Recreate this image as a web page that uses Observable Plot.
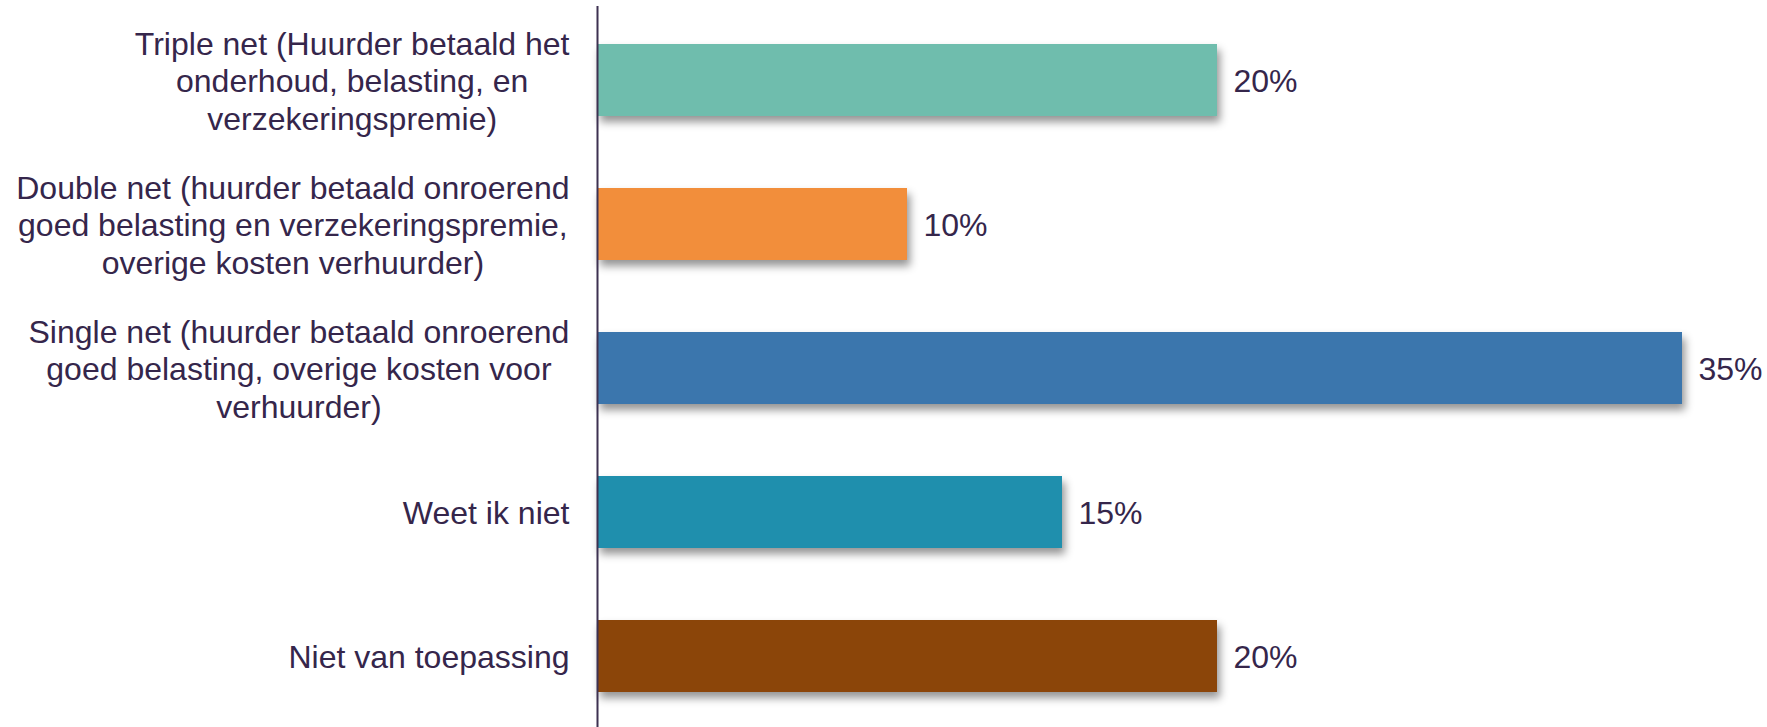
<!DOCTYPE html>
<html>
<head>
<meta charset="utf-8">
<script src="https://cdn.jsdelivr.net/npm/d3@7"></script>
<script src="https://cdn.jsdelivr.net/npm/@observablehq/plot@0.6"></script>
<style>
  html, body { margin: 0; padding: 0; background: #fff; overflow: hidden; }
  #chart svg { display: block; }
</style>
</head>
<body>
<div id="chart"></div>
<script>
const categories = [
  "Triple net (Huurder betaald het\nonderhoud, belasting, en\nverzekeringspremie)",
  "Double net (huurder betaald onroerend\ngoed belasting en verzekeringspremie,\noverige kosten verhuurder)",
  "Single net (huurder betaald onroerend\ngoed belasting, overige kosten voor\nverhuurder)",
  "Weet ik niet",
  "Niet van toepassing"
];
const values = [20, 10, 35, 15, 20];
const valueLabels = ["20%", "10%", "35%", "15%", "20%"];
const colors = ["#6fbdad", "#f28e3b", "#3b76ad", "#1f8fad", "#8b4509"];

const data = categories.map((c, i) => ({cat: c, value: values[i], label: valueLabels[i], color: colors[i]}));

const textColor = "#35264b";

const plot = Plot.plot({
  width: 1767,
  height: 727,
  marginLeft: 597,
  marginRight: 85,
  marginTop: 6,
  marginBottom: -3,
  style: {fontFamily: "'Liberation Sans', Arial, sans-serif", fontSize: "32px", color: textColor, background: "#fff"},
  x: {domain: [0, 35], axis: null},
  y: {domain: categories, paddingInner: 0.5, paddingOuter: 0.25, label: null},
  marks: [
    Plot.barX(data, {y: "cat", x: "value", fill: "color"}),
    Plot.ruleX([0], {stroke: "#3d3151", strokeWidth: 2}),
    Plot.text(data, {y: "cat", x: "value", text: "label", textAnchor: "start", dx: 16, dy: 1, fill: textColor, fontSize: 32}),
    Plot.axisY({tickSize: 0, tickPadding: 28, fontSize: 32, lineHeight: 1.17, fill: textColor, label: null})
  ]
});

document.getElementById("chart").appendChild(plot);

// drop shadow on bars
const barG = plot.querySelector("g[aria-label='bar']");
if (barG) barG.style.filter = "drop-shadow(3px 6px 4px rgba(0,0,0,0.42))";

// center multi-line labels within their block (right-aligned block)
plot.querySelectorAll("g[aria-label='y-axis tick label'] text").forEach(t => {
  const w = t.getBBox().width;
  t.setAttribute("text-anchor", "middle");
  t.querySelectorAll("tspan").forEach(ts => ts.setAttribute("x", -w / 2));
  if (!t.querySelector("tspan")) t.setAttribute("x", -w / 2);
});
</script>
</body>
</html>
